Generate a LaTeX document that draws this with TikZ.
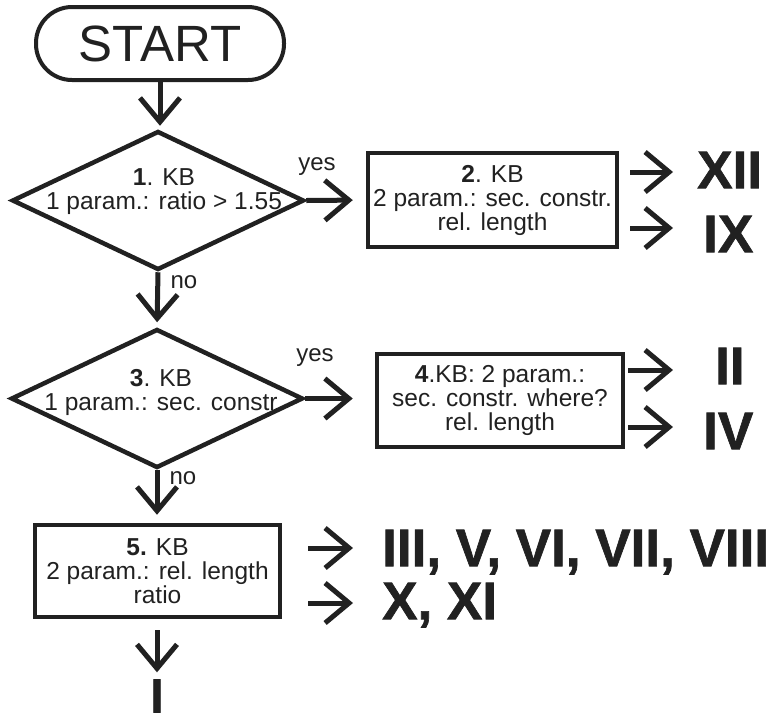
\documentclass[tikz,border=0pt]{standalone}
\usepackage{fontspec}
\setmainfont{Liberation Sans}
\newfontfamily\romanfont[BoldFeatures={FakeBold=1.2}]{Liberation Sans}
\usetikzlibrary{shapes.geometric,arrows.meta}
\definecolor{ink}{gray}{0.13}
\tikzset{
  arr/.style={draw=ink, line width=5pt, -{Straight Barb[length=24pt,width=40pt]}},
  dia/.style={draw=ink, line width=4.5pt, shape=diamond, minimum width=292pt,
    minimum height=139pt, inner sep=0pt},
  kbbox/.style={draw=ink, line width=4.5pt, rectangle, inner sep=0pt, text=ink,
    align=center, font=\fontsize{24.5}{24}\selectfont},
  txt/.style={text=ink, align=center, font=\fontsize{24.5}{24}\selectfont, inner sep=0pt},
  roman/.style={text=ink, font=\romanfont\bfseries\fontsize{53}{53}\selectfont,
    inner sep=0pt, anchor=west, text depth=0pt},
  lab/.style={text=ink, font=\fontsize{24}{24}\selectfont, inner sep=0pt, anchor=base},
}
\begin{document}
\begin{tikzpicture}[x=1pt,y=-1pt]
\useasboundingbox (0,0) rectangle (778,724);

% start terminal
\node[draw=ink, line width=4pt, rounded corners=36pt, minimum width=248pt,
  minimum height=73pt, text=ink, font=\fontsize{51}{51}\selectfont, inner sep=0pt]
  (start) at (160,43.5) {START};

% decisions
\node[dia] (d1) at (158,200.5) {};
\node[txt] (d1t) at (164,191.5) {\textbf{1}. KB\\1 param.: ratio > 1.55};
\node[dia] (d3) at (157,398.5) {};
\node[txt] (d3t) at (161,392.5) {\textbf{3}. KB\\1 param.: sec. constr};

% knowledge-base boxes
\node[kbbox, minimum width=249pt, minimum height=94pt] (b2) at (492.5,200)
  {\textbf{2}. KB\\2 param.: sec. constr.\\rel. length};
\node[kbbox, minimum width=246pt, minimum height=93pt] (b4) at (500,400.5)
  {\textbf{4}.KB: 2 param.:\\sec. constr. where?\\rel. length};
\node[kbbox, minimum width=245pt, minimum height=92pt] (b5) at (157.5,571)
  {\textbf{5.} KB\\2 param.: rel. length\\ratio};

% outcomes
\node[roman] (r12) at (697,170) {XII};
\node[roman] (r9) at (703,234) {IX};
\node[roman] (r2) at (715,366) {II};
\node[roman] (r4) at (703,431) {IV};
\node[roman] (r3) at (382,548) {III, V, VI, VII, VIII};
\node[roman] (r10) at (382,601) {X, XI};
\node[roman, anchor=center, font=\romanfont\bfseries\fontsize{48}{48}\selectfont]
  (r1) at (157,696) {I};

% arrow ends in front of the outcomes
\coordinate (t12) at (673,172);
\coordinate (t9) at (673,228);
\coordinate (t2) at (673,370);
\coordinate (t4) at (673,427);
\coordinate (t3) at (353,548);
\coordinate (t10) at (353,603);

% main flow
\draw[arr, shorten >=3pt] (start.south) -- (start.south |- d1.north);
\draw[arr, shorten >=4.5pt] (d1.south) -- (d3.north);
\draw[arr, shorten >=8pt] (d3.south) -- (d3.south |- b5.north);
\draw[arr, shorten <=11pt, shorten >=7pt] (b5.south -| r1) -- (r1.north);
\draw[arr, shorten >=13pt] (d1.east) -- (b2.west);
\draw[arr, shorten >=22pt] (d3.east) -- (d3.east -| b4.west);

% branch labels
\node[lab] (yes1) at (317,170) {yes};
\node[lab] (no1) at (184,288) {no};
\node[lab] (yes3) at (315,361) {yes};
\node[lab] (no3) at (183,484) {no};

% results of each knowledge base
\draw[arr, shorten <=11pt] (b2.east |- t12) -- (t12);
\draw[arr, shorten <=11pt] (b2.east |- t9) -- (t9);
\draw[arr, shorten <=3pt] (b4.east |- t2) -- (t2);
\draw[arr, shorten <=3pt] (b4.east |- t4) -- (t4);
\draw[arr, shorten <=26pt] (b5.east |- t3) -- (t3);
\draw[arr, shorten <=26pt] (b5.east |- t10) -- (t10);
\end{tikzpicture}
\end{document}
